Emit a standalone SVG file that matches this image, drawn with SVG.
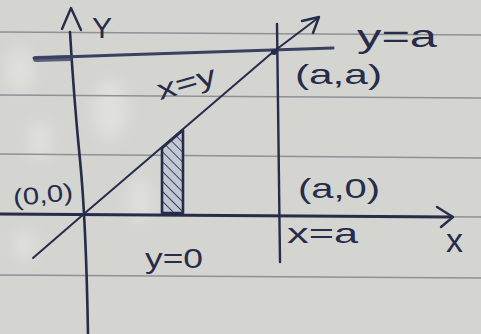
<svg xmlns="http://www.w3.org/2000/svg" width="481" height="334" viewBox="0 0 481 334">
<defs>
<style>
.ink{fill:none;stroke:#262c4a;stroke-linecap:round;stroke-linejoin:round}
.rule{fill:none;stroke:#8e9196;stroke-width:1.6}
.lbl{font-family:"Liberation Sans","DejaVu Sans",sans-serif;fill:#262c4a}
</style>
<pattern id="hatch" patternUnits="userSpaceOnUse" width="7" height="7" patternTransform="rotate(-45)">
<rect width="7" height="7" fill="#c3c7d4"/>
<line x1="0" y1="0" x2="0" y2="7" stroke="#3a4262" stroke-width="2"/>
</pattern>
<filter id="soft"><feGaussianBlur stdDeviation="7"/></filter>
</defs>
<g id="paper">
<rect width="481" height="334" fill="#d4d5d0"/>
<g filter="url(#soft)" fill="#e6e7e3" opacity="0.6">
<ellipse cx="20" cy="70" rx="14" ry="22"/>
<ellipse cx="25" cy="245" rx="12" ry="14"/>
<ellipse cx="110" cy="110" rx="18" ry="30"/>
<ellipse cx="140" cy="200" rx="12" ry="22"/>
<ellipse cx="40" cy="140" rx="12" ry="20"/>
</g>
<path class="rule" d="M0 32 L481 35"/>
<path class="rule" d="M0 95 L481 98"/>
<path class="rule" d="M0 154 L481 158"/>
<path class="rule" d="M0 214 L481 217"/>
<path class="rule" d="M0 275 L481 278"/>
</g>
<g id="connectors">
<path id="y-axis" class="ink" stroke-width="2.6" d="M70 32 Q74 100 80 160 Q86 220 88 334"/>
<path class="ink" stroke-width="2.4" d="M62 29 L71 8 L81 30"/>
<path id="x-axis" class="ink" stroke-width="2.8" d="M0 214 L452 217"/>
<path class="ink" stroke-width="2.4" d="M437 207 L453 217 L441 227"/>
<path id="line-y-eq-a" fill="none" stroke="#3b4160" stroke-width="3" stroke-linecap="round" d="M34 58 L120 55 L333 48"/>
<path fill="none" stroke="#3b4160" stroke-width="6" stroke-linecap="round" opacity="0.8" d="M36 59 L70 58"/>
<path id="line-x-eq-a" class="ink" stroke-width="2.4" d="M277 24 Q278 140 280 262"/>
<path id="line-y-eq-x" class="ink" stroke-width="2" d="M33 258 L85 213 L273 52 L318 18"/>
<path class="ink" stroke-width="2.4" d="M302 21 L319 17 L313 33"/>
<circle cx="274" cy="52" r="3" fill="#262c4a"/>
</g>
<g id="strip">
<path d="M162 148 L183 130 L183 213 L162 213 Z" fill="url(#hatch)" stroke="#262c4a" stroke-width="2.6" stroke-linejoin="round"/>
</g>
<g id="label-Y"><text class="lbl" x="92" y="38" font-size="30">Y</text></g>
<g id="label-yeqa"><text class="lbl" x="357" y="47" font-size="32" textLength="80" lengthAdjust="spacingAndGlyphs">y=a</text></g>
<g id="label-aa"><text class="lbl" x="295" y="84" font-size="28" textLength="87" lengthAdjust="spacingAndGlyphs">(a,a)</text></g>
<g id="label-xeqy"><text class="lbl" font-size="28" transform="translate(160 100) rotate(-16)" textLength="60" lengthAdjust="spacingAndGlyphs">x=y</text></g>
<g id="label-a0"><text class="lbl" x="298" y="198" font-size="28" textLength="82" lengthAdjust="spacingAndGlyphs">(a,0)</text></g>
<g id="label-00"><text class="lbl" font-size="24" transform="translate(14 206) rotate(-6)" textLength="60" lengthAdjust="spacingAndGlyphs">(0,0)</text></g>
<g id="label-xeqa"><text class="lbl" x="287" y="243" font-size="28" textLength="71" lengthAdjust="spacingAndGlyphs">x=a</text></g>
<g id="label-x"><text class="lbl" x="446" y="252" font-size="34">x</text></g>
<g id="label-yeq0"><text class="lbl" x="145" y="268" font-size="28" textLength="58" lengthAdjust="spacingAndGlyphs">y=0</text></g>
</svg>
